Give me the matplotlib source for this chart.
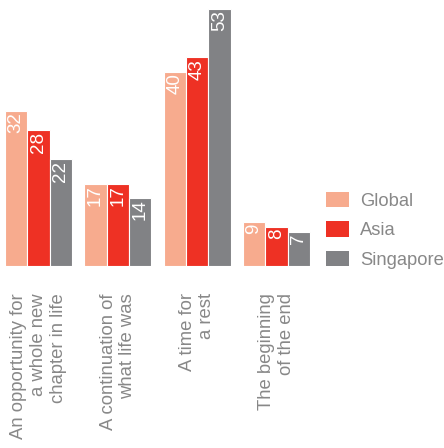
import matplotlib

matplotlib.use("Agg")
import matplotlib.pyplot as plt
from matplotlib.patches import Patch

categories = [
    "An opportunity for\na whole new\nchapter in life",
    "A continuation of\nwhat life was",
    "A time for\na rest",
    "The beginning\nof the end",
]
series = ["Global", "Asia", "Singapore"]
global_vals = [32, 17, 40, 9]
asia_vals = [28, 17, 43, 8]
singapore_vals = [22, 14, 53, 7]

colors = ["#f7ab8e", "#ee3124", "#818285"]
text_grey = "#888888"

plt.rcParams["font.family"] = ["Liberation Sans", "DejaVu Sans"]

W, H, DPI = 444, 448, 100
fig = plt.figure(figsize=(W / DPI, H / DPI), dpi=DPI)

# axes spans full width; baseline sits 266 px from the top
base_px = 182
ax = fig.add_axes([0, base_px / H, 1, (H - base_px) / H])
pitch = 79.3
x0 = 38.5
ax.set_xlim(-x0 / pitch, (W - x0) / pitch)
px_per_unit = 4.85
ax.set_ylim(0, (H - base_px) / px_per_unit)
ax.axis("off")

width = 0.282
for j, (name, vals) in enumerate(zip(series, [global_vals, asia_vals, singapore_vals])):
    xs = [i + (j - 1) * width for i in range(len(categories))]
    ax.bar(xs, vals, width, color=colors[j], edgecolor="white", linewidth=0.8, label=name)
    for x, v in zip(xs, vals):
        ax.text(x, v - 0.3, str(v), rotation=90, ha="center", va="top",
                color="white", fontsize=13.5)

for i, lab in enumerate(categories):
    ax.text(i, -27 / px_per_unit, lab, rotation=90, ha="center", va="top",
            multialignment="right", color=text_grey, fontsize=13.3,
            linespacing=1.2, clip_on=False)

handles = [Patch(facecolor=c, edgecolor="none") for c in colors]
leg = fig.legend(handles, series, loc="upper left", bbox_to_anchor=(326 / W, 1 - 192 / H),
                 frameon=False, fontsize=13.2, handlelength=1.25, handleheight=0.9,
                 handletextpad=0.6, labelspacing=0.62, borderpad=0, borderaxespad=0)
for t in leg.get_texts():
    t.set_color(text_grey)

fig.savefig("out.png", dpi=DPI)
